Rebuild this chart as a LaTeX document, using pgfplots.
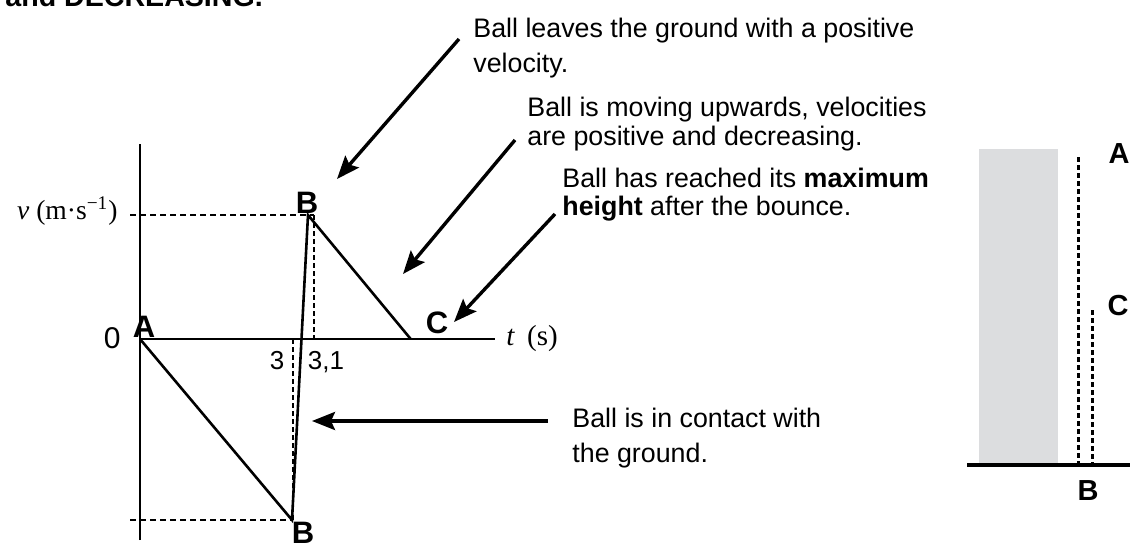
\documentclass[border=0pt]{standalone}
\usepackage{pgfplots}
\pgfplotsset{compat=1.18}
\usepackage{fontspec}
\setmainfont{Liberation Sans}
\newfontfamily\serif{Liberation Serif}
\usetikzlibrary{arrows.meta}
\definecolor{wallgray}{RGB}{220,221,223}

\begin{document}
\begin{tikzpicture}[x=0.5pt,y=-0.5pt]
\useasboundingbox (0,0) rectangle (1130,547);
% text cut at the top of the picture
\node[anchor=base west, inner sep=0, font=\fontsize{14.3}{16}\selectfont\bfseries] at (5,6) {and DECREASING.};

\begin{axis}[at={(70pt,-270pt)}, anchor=south west, scale only axis,
  width=177.5pt, height=198pt,
  xmin=0, xmax=355, ymin=-201, ymax=195,
  axis lines=middle, axis line style={-, line width=1.2pt},
  ticks=none, enlargelimits=false, clip=false]
\addplot[black, dash pattern=on 3pt off 2pt, line width=1pt] coordinates {(-10,124) (174,124)};
\addplot[black, dash pattern=on 2.5pt off 1.5pt, line width=1.1pt] coordinates {(174,124) (174,0)};
\addplot[black, dash pattern=on 2.5pt off 1.5pt, line width=1.1pt] coordinates {(153,0) (153,-181)};
\addplot[black, dash pattern=on 3pt off 2pt, line width=1pt] coordinates {(-10,-181) (153,-181)};
\addplot[black, line width=1.3pt] coordinates {(0,0) (152,-181) (168,124) (270.7,0)};
\end{axis}

% axis labels
\node[anchor=east, inner sep=0, font=\serif\fontsize{13.8}{16}\selectfont] at (118,211) {\textit{v} (m·s\textsuperscript{−1})};
\node[anchor=west, inner sep=0, font=\serif\fontsize{14.5}{16}\selectfont] at (506,339) {\textit{t}\, (s)};
\node[anchor=east, inner sep=0, font=\fontsize{15}{16}\selectfont] at (121,338) {0};
\node[anchor=base, inner sep=0, font=\fontsize{13}{14}\selectfont] at (277,369) {3};
\node[anchor=base, inner sep=0, font=\fontsize{13}{14}\selectfont] at (326,369) {3,1};

% point labels
\begin{scope}[every node/.style={anchor=base, inner sep=0, font=\fontsize{15.5}{16}\selectfont\bfseries}]
\node at (144,337) {A};
\node at (307,213) {B};
\node at (303,543) {B};
\node at (437,333) {C};
\end{scope}

% annotation texts
\begin{scope}[every node/.style={anchor=base west, inner sep=0, font=\fontsize{13.4}{16}\selectfont}]
\node at (473,37) {Ball leaves the ground with a positive};
\node at (473,72) {velocity.};
\node at (527,116) {Ball is moving upwards, velocities};
\node at (527,145) {are positive and decreasing.};
\node at (562,187) {Ball has reached its \textbf{maximum}};
\node at (562,215) {\textbf{height} after the bounce.};
\node at (572,427) {Ball is in contact with};
\node at (572,462) {the ground.};
\end{scope}

% arrows
\begin{scope}[line width=1.7pt, -{Stealth[length=11.5pt, width=9pt, inset=2pt]}]
\draw (459,39) -- (337,179);
\draw (515,140) -- (403,274);
\draw (555,214) -- (454,322);
\draw (548,421) -- (312,421);
\end{scope}

% right-hand diagram
\fill[wallgray] (979,149) rectangle (1058,464);
\draw[line width=1.5pt, dash pattern=on 2.5pt off 1.5pt] (1078,157) -- (1078,464);
\draw[line width=1.5pt, dash pattern=on 2.5pt off 1.5pt] (1092,310) -- (1092,464);
\draw[line width=1.7pt] (967,465) -- (1135,465);
\begin{scope}[every node/.style={anchor=base, inner sep=0, font=\fontsize{14.5}{16}\selectfont\bfseries}]
\node at (1119,163) {A};
\node at (1118,315) {C};
\node at (1088,500) {B};
\end{scope}
\end{tikzpicture}
\end{document}
